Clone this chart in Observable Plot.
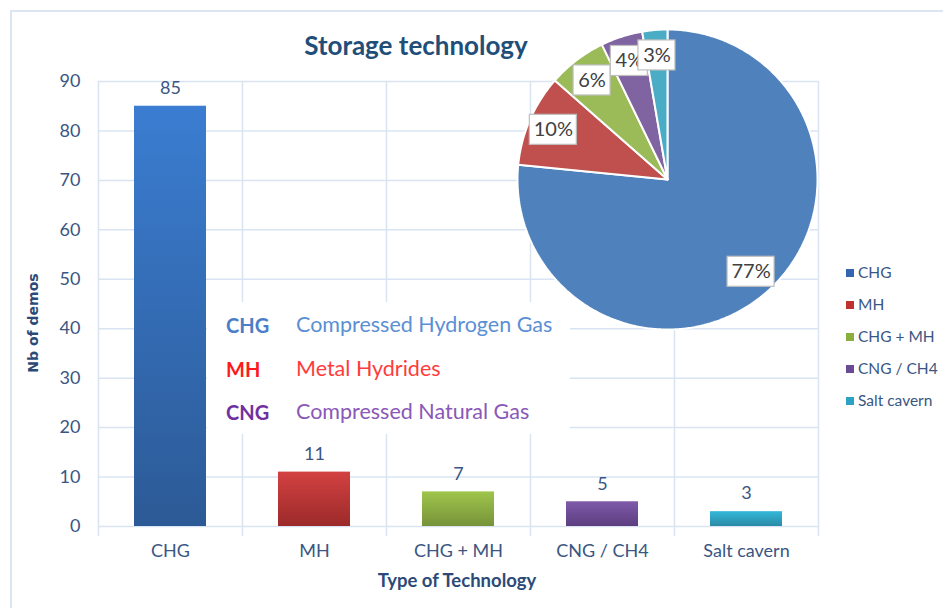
<!DOCTYPE html>
<html><head><meta charset="utf-8">
<script src="https://cdn.jsdelivr.net/npm/d3@7"></script>
<script src="https://cdn.jsdelivr.net/npm/@observablehq/plot@0.6"></script>
<style>
body{margin:0;background:#fff;font-family:Lato,sans-serif;}
#wrap{position:relative;width:943px;height:608px;overflow:hidden;background:#fff;}
.abs{position:absolute;white-space:nowrap;line-height:1;}
#frame{position:absolute;left:10px;top:10px;width:960px;height:640px;border-left:2px solid #dce6f2;border-top:2px solid #dce6f2;}
#wrap svg{position:absolute;}
</style></head><body><div id="wrap"><div id="frame"></div></div>
<script>
// ---- data ----
const categories = ["CHG", "MH", "CHG + MH", "CNG / CH4", "Salt cavern"];
const demos = [85, 11, 7, 5, 3];
const pieLabels = ["77%", "10%", "6%", "4%", "3%"];
const yTicks = [0, 10, 20, 30, 40, 50, 60, 70, 80, 90];
const barTopColors = ["#3b7dd1", "#d34141", "#9fc54b", "#7f5aaa", "#34b8da"];
const barBottomColors = ["#2c5a96", "#9c2a2a", "#76933a", "#5d3e80", "#2a8aa5"];
const pieColors = ["#4f81bd", "#c0504d", "#9bbb59", "#8064a2", "#4bacc6"];
const legendColors = ["#3466b0", "#c0302e", "#8aaf3c", "#6a4a95", "#2ea2c2"];
const acronyms = ["CHG", "MH", "CNG"];
const meanings = ["Compressed Hydrogen Gas", "Metal Hydrides", "Compressed Natural Gas"];
const acronymColors = ["#4a7ec8", "#ff1a1a", "#7030a0"];
const meaningColors = ["#5b8fd4", "#ff3b3b", "#8a58b8"];

const axisColor = "#3a5683";
const gridColor = "#d9e4f3";
const wrap = document.getElementById("wrap");

// ---- main bar chart ----
const W = 943, H = 608, mL = 98, mR = 125, mT = 81, mB = 82;
const step = (W - mL - mR) / categories.length;
const bars = categories.map((c, i) => ({c, v: demos[i], i}));
const last = categories[categories.length - 1];

const main = Plot.plot({
  width: W, height: H,
  marginLeft: mL, marginRight: mR, marginTop: mT, marginBottom: mB,
  style: {fontFamily: "Lato, sans-serif", background: "transparent", overflow: "visible"},
  x: {domain: categories, paddingInner: 0.5, paddingOuter: 0.25},
  y: {domain: [0, 90]},
  color: {type: "identity"},
  marks: [
    Plot.ruleY(yTicks, {y: d => d, stroke: gridColor, strokeWidth: 1.5}),
    Plot.ruleX(categories, {x: d => d, y1: -2, y2: 90, dx: -step / 2, stroke: gridColor, strokeWidth: 1.5}),
    Plot.ruleX([last], {x: d => d, y1: -2, y2: 90, dx: step / 2, stroke: gridColor, strokeWidth: 1.5}),
    Plot.barY(bars, {x: "c", y: "v", fill: d => `url(#grad${d.i})`}),
    Plot.text(bars, {x: "c", y: "v", text: d => String(d.v), dy: -18, fontSize: 18, fill: axisColor}),
    Plot.axisY({ticks: yTicks, tickSize: 0, tickPadding: 18, fontSize: 18, fill: axisColor, label: null}),
    Plot.axisX({tickSize: 0, tickPadding: 18, fontSize: 18, fill: axisColor, label: null})
  ]
});
const defs = d3.select(main).insert("defs", ":first-child");
categories.forEach((c, i) => {
  const g = defs.append("linearGradient").attr("id", `grad${i}`)
    .attr("x1", 0).attr("y1", 0).attr("x2", 0).attr("y2", 1);
  g.append("stop").attr("offset", "0%").attr("stop-color", barTopColors[i]);
  g.append("stop").attr("offset", "100%").attr("stop-color", barBottomColors[i]);
});
main.style.left = "0px"; main.style.top = "0px";
wrap.appendChild(main);

// ---- abbreviations text box ----
const box = document.createElement("div");
box.className = "abs";
Object.assign(box.style, {left: "207px", top: "302px", width: "363px", height: "132px", background: "#fff"});
wrap.appendChild(box);
acronyms.forEach((a, i) => {
  const yC = 325 + i * 43.5;
  const s = document.createElement("div");
  s.className = "abs"; s.textContent = a;
  Object.assign(s.style, {left: "226px", top: (yC - 10) + "px", fontSize: "20px", fontWeight: "bold", color: acronymColors[i]});
  wrap.appendChild(s);
  const m = document.createElement("div");
  m.className = "abs"; m.textContent = meanings[i];
  Object.assign(m.style, {left: "296px", top: (yC - 11) + "px", fontSize: "21.5px", color: meaningColors[i]});
  wrap.appendChild(m);
});

// ---- pie chart ----
const R = 150, pm = 2, pieSize = 2 * R + 2 * pm;
const arcs = d3.pie().sort(null)(demos);
const slicePts = arcs.flatMap((a, i) => {
  const n = Math.max(4, Math.ceil((a.endAngle - a.startAngle) / 0.01));
  const pts = [{i, x: 0, y: 0}];
  for (let k = 0; k <= n; k++) {
    const t = a.startAngle + (a.endAngle - a.startAngle) * k / n;
    pts.push({i, x: Math.sin(t), y: Math.cos(t)});
  }
  pts.push({i, x: 0, y: 0});
  return pts;
});
const labelR = 0.83;
const labelData = arcs.map((a, i) => {
  const mid = (a.startAngle + a.endAngle) / 2;
  const x = labelR * Math.sin(mid), y = labelR * Math.cos(mid);
  const hw = (pieLabels[i].length >= 3 ? 47 : 37) / 2 / R, hh = 15 / R;
  return {t: pieLabels[i], x, y, x1: x - hw, x2: x + hw, y1: y - hh, y2: y + hh};
});
const pie = Plot.plot({
  width: pieSize, height: pieSize,
  marginLeft: pm, marginRight: pm, marginTop: pm, marginBottom: pm,
  style: {fontFamily: "Lato, sans-serif", background: "transparent", overflow: "visible"},
  x: {domain: [-1, 1], axis: null},
  y: {domain: [-1, 1], axis: null},
  color: {type: "identity"},
  marks: [
    Plot.line(slicePts, {x: "x", y: "y", z: "i", fill: d => pieColors[d.i], stroke: "white", strokeWidth: 2, strokeLinejoin: "miter"}),
    ...labelData.flatMap(d => [
      Plot.rect([d], {x1: "x1", x2: "x2", y1: "y1", y2: "y2", fill: "white", stroke: "#bfbfbf", strokeWidth: 1.2}),
      Plot.text([d], {x: "x", y: "y", text: "t", fontSize: 20, fill: "#404040"})
    ])
  ]
});
pie.style.left = (667 - R - pm) + "px"; pie.style.top = (179 - R - pm) + "px";
wrap.appendChild(pie);

// ---- titles ----
function addText(txt, x, y, style, rotate) {
  const d = document.createElement("div");
  d.className = "abs"; d.textContent = txt;
  Object.assign(d.style, {left: x + "px", top: y + "px", transform: `translate(-50%,-50%)${rotate ? " rotate(-90deg)" : ""}`}, style);
  wrap.appendChild(d);
}
addText("Storage technology", 416, 45, {fontSize: "26px", fontWeight: "bold", color: "#1f4e79"});
addText("Type of Technology", 457, 580, {fontSize: "18.5px", fontWeight: "bold", color: "#2c4a78"});
addText("Nb of demos", 33, 323, {fontSize: "14px", fontWeight: "bold", color: "#2c4a78", fontFamily: "DejaVu Sans"}, true);

// ---- legend ----
categories.forEach((c, i) => {
  const yC = 273 + i * 32;
  const sq = document.createElement("div");
  sq.className = "abs";
  Object.assign(sq.style, {left: "846px", top: (yC - 4) + "px", width: "8px", height: "8px", background: legendColors[i]});
  wrap.appendChild(sq);
  const t = document.createElement("div");
  t.className = "abs"; t.textContent = c;
  Object.assign(t.style, {left: "858px", top: (yC - 8) + "px", fontSize: "15.5px", color: axisColor});
  wrap.appendChild(t);
});
</script></body></html>
